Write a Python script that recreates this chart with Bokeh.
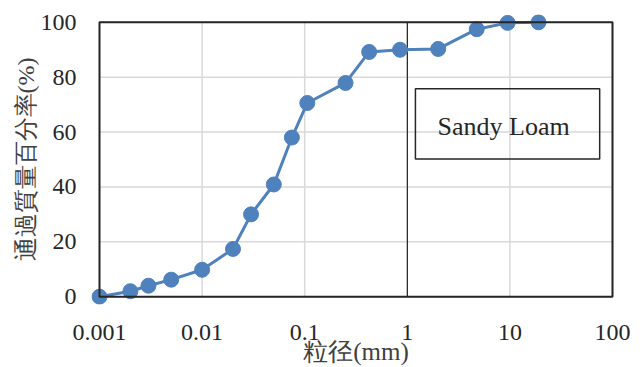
from bokeh.plotting import figure
from bokeh.models import FixedTicker, BoxAnnotation, Label, Range1d
from bokeh.embed import file_html
from bokeh.resources import INLINE

# particle size (mm) and percent passing (%)
size_mm = [0.001, 0.002, 0.003, 0.005, 0.01, 0.02, 0.03, 0.05, 0.075, 0.106,
           0.25, 0.425, 0.85, 2.0, 4.75, 9.5, 19.0]
passing = [0.0, 2.0, 4.0, 6.2, 9.8, 17.4, 30.0, 40.9, 58.0, 70.6,
           77.9, 89.2, 90.0, 90.3, 97.5, 99.8, 100.0]

x_ticks = [0.001, 0.01, 0.1, 1, 10, 100]
x_tick_labels = ["0.001", "0.01", "0.1", "1", "10", "100"]
y_ticks = [0, 20, 40, 60, 80, 100]

x_lo, x_hi = x_ticks[0], x_ticks[-1]
y_lo, y_hi = y_ticks[0], y_ticks[-1]

SERIF = "Liberation Serif"

# frame slightly larger than the axes box so that end markers are not clipped
p = figure(width=640, height=367, x_axis_type="log",
           x_range=Range1d(10 ** -3.078, 10 ** 2.078),
           y_range=Range1d(-2.85, 102.85),
           output_backend="svg", toolbar_location=None,
           min_border_left=91, min_border_right=20,
           min_border_top=14, min_border_bottom=56)

p.background_fill_color = "white"
p.border_fill_color = "white"
p.outline_line_color = None

p.xaxis.ticker = FixedTicker(ticks=x_ticks)
p.xaxis.major_label_overrides = {t: l for t, l in zip(x_ticks, x_tick_labels)}
p.yaxis.ticker = FixedTicker(ticks=y_ticks)

p.xaxis.axis_label = "粒径(mm)"
p.yaxis.axis_label = "通過質量百分率(%)"

p.xaxis.axis_line_color = None
p.yaxis.axis_line_color = None
p.xaxis.major_tick_line_color = None
p.yaxis.major_tick_line_color = None
p.xaxis.minor_tick_line_color = None
p.yaxis.minor_tick_line_color = None
p.xaxis.major_label_text_font = SERIF
p.yaxis.major_label_text_font = SERIF
p.xaxis.major_label_text_font_size = "24px"
p.yaxis.major_label_text_font_size = "24px"
p.xaxis.major_label_text_color = "#262626"
p.yaxis.major_label_text_color = "#262626"
p.xaxis.axis_label_text_font = SERIF
p.yaxis.axis_label_text_font = SERIF
p.xaxis.axis_label_text_font_size = "25px"
p.yaxis.axis_label_text_font_size = "24px"
p.xaxis.axis_label_text_font_style = "normal"
p.yaxis.axis_label_text_font_style = "normal"
p.xaxis.axis_label_text_color = "#404040"
p.yaxis.axis_label_text_color = "#404040"

p.xaxis.major_label_standoff = 14
p.yaxis.major_label_standoff = 9
p.xaxis.axis_label_standoff = -5
p.yaxis.axis_label_standoff = -1

# grid lines restricted to the axes box
p.grid.visible = False
p.segment(x0=x_ticks, x1=x_ticks, y0=[y_lo] * len(x_ticks), y1=[y_hi] * len(x_ticks),
          line_color="#d9d9d9", line_width=1.5)
p.segment(x0=[x_lo] * len(y_ticks), x1=[x_hi] * len(y_ticks), y0=y_ticks, y1=y_ticks,
          line_color="#d9d9d9", line_width=1.5)

# vertical reference line at 1 mm
p.segment(x0=[1], x1=[1], y0=[y_lo], y1=[y_hi], line_color="black", line_width=1)

# axes box
p.add_layout(BoxAnnotation(left=x_lo, right=x_hi, bottom=y_lo, top=y_hi,
                           fill_color=None, fill_alpha=0, line_color="#262626",
                           line_alpha=1, line_width=2))

# text box
p.add_layout(BoxAnnotation(left=1.2, right=75, bottom=50.2, top=75.8,
                           fill_color=None, fill_alpha=0, line_color="#262626",
                           line_alpha=1, line_width=1.5))
p.add_layout(Label(x=8.7, y=62, text="Sandy Loam", text_align="center",
                   text_baseline="middle", text_font=SERIF,
                   text_font_size="26px", text_color="#262626"))

p.line(size_mm, passing, line_color="#4f81bd", line_width=3)
p.scatter(size_mm, passing, size=15, fill_color="#4f81bd", line_color="#4f81bd")

open("out.html", "w").write(file_html(p, INLINE))
